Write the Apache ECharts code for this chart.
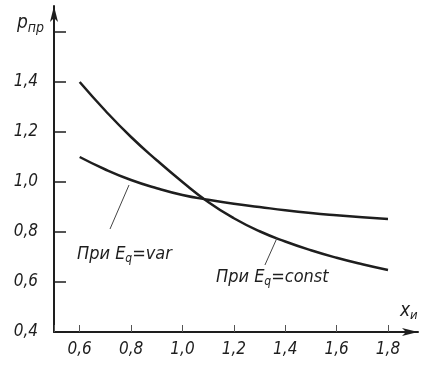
<!DOCTYPE html>
<html>
<head>
<meta charset="utf-8">
<script src="https://cdn.jsdelivr.net/npm/echarts@6/dist/echarts.min.js"></script>
<style>
  html, body { margin: 0; padding: 0; background: #fff; }
  #chart { width: 429px; height: 372px; }
</style>
</head>
<body>
<div id="chart"></div>
<script>
// значения
const xValues = [0.6, 0.7, 0.8, 0.9, 1.0, 1.1, 1.2, 1.3, 1.4, 1.5, 1.6, 1.7, 1.8];
const constValues = [1.40, 1.285, 1.18, 1.087, 1.0, 0.92, 0.855, 0.803, 0.762, 0.727, 0.697, 0.671, 0.648];
const varValues = [1.10, 1.05, 1.008, 0.975, 0.948, 0.929, 0.913, 0.90, 0.887, 0.876, 0.867, 0.859, 0.852];
const yTicks = [0.4, 0.6, 0.8, 1.0, 1.2, 1.4];
const xTicks = [0.6, 0.8, 1.0, 1.2, 1.4, 1.6, 1.8];

const font = "'Liberation Sans Narrow', 'DejaVu Sans Condensed', 'Liberation Sans', sans-serif";
const ink = "#1e1e1e";

function fmt(v, list) {
  const ok = list.some(function (t) { return Math.abs(t - v) < 1e-6; });
  return ok ? v.toFixed(1).replace(".", ",") : "";
}

const chart = echarts.init(document.getElementById("chart"));
chart.setOption({
  animation: false,
  grid: [
    { left: 54, right: 41, top: 32, bottom: 40 },
    { left: 54, right: 11, top: 6, bottom: 40 }
  ],
  xAxis: [
    {
      type: "value",
      gridIndex: 0,
      min: 0.5,
      max: 1.8,
      splitNumber: 6,
      axisLine: { show: false },
      splitLine: { show: false },
      axisTick: { inside: true, length: 7, lineStyle: { color: "#555", width: 1 } },
      axisLabel: {
        margin: 9,
        color: ink,
        fontSize: 17,
        fontStyle: "italic",
        fontFamily: font,
        formatter: function (v) { return fmt(v, xTicks); }
      }
    },
    {
      type: "value",
      gridIndex: 1,
      min: 0,
      max: 1,
      axisLine: {
        lineStyle: { color: ink, width: 2 },
        symbol: ["none", "arrow"],
        symbolSize: [6, 16]
      },
      axisTick: { show: false },
      axisLabel: { show: false },
      splitLine: { show: false }
    }
  ],
  yAxis: [
    {
      type: "value",
      gridIndex: 0,
      min: 0.4,
      max: 1.6,
      interval: 0.2,
      axisLine: { show: false },
      splitLine: { show: false },
      axisTick: { inside: true, length: 12, lineStyle: { color: ink, width: 1.5 } },
      axisLabel: {
        margin: 16,
        color: ink,
        fontSize: 17,
        fontStyle: "italic",
        fontFamily: font,
        formatter: function (v) { return fmt(v, yTicks); }
      }
    },
    {
      type: "value",
      gridIndex: 1,
      min: 0,
      max: 1,
      axisLine: {
        lineStyle: { color: ink, width: 2 },
        symbol: ["none", "arrow"],
        symbolSize: [6, 16]
      },
      axisTick: { show: false },
      axisLabel: { show: false },
      splitLine: { show: false }
    }
  ],
  series: [
    {
      name: "const",
      type: "line",
      xAxisIndex: 0,
      yAxisIndex: 0,
      smooth: true,
      symbol: "none",
      lineStyle: { color: ink, width: 2.5 },
      data: xValues.map(function (x, i) { return [x, constValues[i]]; }),
      markLine: {
        silent: true,
        symbol: "none",
        label: { show: false },
        lineStyle: { color: "#444", width: 1, type: "solid" },
        data: [[{ coord: [1.368, 0.776] }, { coord: [1.321, 0.668] }]]
      }
    },
    {
      name: "var",
      type: "line",
      xAxisIndex: 0,
      yAxisIndex: 0,
      smooth: true,
      symbol: "none",
      lineStyle: { color: ink, width: 2.5 },
      data: xValues.map(function (x, i) { return [x, varValues[i]]; }),
      markLine: {
        silent: true,
        symbol: "none",
        label: { show: false },
        lineStyle: { color: "#444", width: 1, type: "solid" },
        data: [[{ coord: [0.792, 0.988] }, { coord: [0.718, 0.812] }]]
      }
    }
  ],
  graphic: [
    {
      type: "text",
      left: 17,
      top: 14,
      style: {
        text: "{m|p}{s|пр}",
        fill: ink,
        rich: {
          m: { fontSize: 19, fontStyle: "italic", fontFamily: font, fill: ink },
          s: { fontSize: 14, fontStyle: "italic", fontFamily: font, fill: ink, padding: [10, 0, 0, 0] }
        }
      }
    },
    {
      type: "text",
      left: 400,
      top: 302,
      style: {
        text: "{m|x}{s|и}",
        fill: ink,
        rich: {
          m: { fontSize: 19, fontStyle: "italic", fontFamily: font, fill: ink },
          s: { fontSize: 13, fontStyle: "italic", fontFamily: font, fill: ink, padding: [8, 0, 0, 0] }
        }
      }
    },
    {
      type: "text",
      left: 77,
      top: 245,
      style: {
        text: "{m|При E}{s|q}{m|=var}",
        fill: ink,
        rich: {
          m: { fontSize: 18, fontStyle: "italic", fontFamily: font, fill: ink },
          s: { fontSize: 12, fontStyle: "italic", fontFamily: font, fill: ink, padding: [9, 0, 0, 0] }
        }
      }
    },
    {
      type: "text",
      left: 216,
      top: 268,
      style: {
        text: "{m|При E}{s|q}{m|=const}",
        fill: ink,
        rich: {
          m: { fontSize: 18, fontStyle: "italic", fontFamily: font, fill: ink },
          s: { fontSize: 12, fontStyle: "italic", fontFamily: font, fill: ink, padding: [9, 0, 0, 0] }
        }
      }
    }
  ]
});
window.addEventListener("resize", function () {
  chart.resize();
});
</script>
</body>
</html>
